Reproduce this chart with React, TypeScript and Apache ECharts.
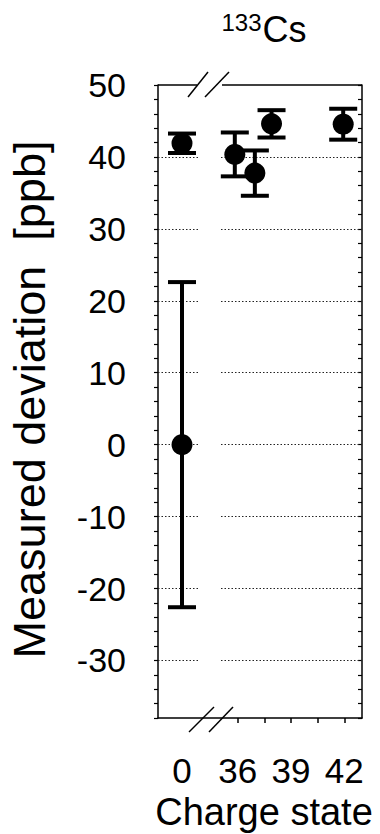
import React, { useEffect, useRef } from "react";
import * as echarts from "echarts";

// ---- data ----
const leftCharges = [0, 0];
const leftValues = [41.9, 0];
const leftErrors = [1.35, 22.6];

const rightCharges = [35.83, 36.96, 37.9, 41.94];
const rightValues = [40.35, 37.75, 44.6, 44.55];
const rightErrors = [3.05, 3.15, 1.9, 2.15];

const yLabelValues = [50, 40, 30, 20, 10, 0, -10, -20, -30];
const gridValues = [40, 30, 20, 10, 0, -10, -20, -30];
const rightTickValues = [36, 37.5, 39, 40.5, 42];
const rightLabelValues = [36, 39, 42];
const leftTickValues = [0, 1.1];
const leftLabelValues = [0];

const FONT = "Liberation Sans, Arial, Helvetica, sans-serif";

const G_LEFT = 158;
const G_RIGHT = 362;
const G_TOP = 85;
const G_BOTTOM = 718;

function errorBarRenderer(params: any, api: any) {
  const x = api.value(0);
  const y = api.value(1);
  const e = api.value(2);
  const top = api.coord([x, y + e]);
  const bot = api.coord([x, y - e]);
  const hw = 14;
  const style = { stroke: "#000", lineWidth: 4 };
  return {
    type: "group",
    children: [
      { type: "line", shape: { x1: top[0], y1: top[1], x2: bot[0], y2: bot[1] }, style },
      { type: "line", shape: { x1: top[0] - hw, y1: top[1], x2: top[0] + hw, y2: top[1] }, style },
      { type: "line", shape: { x1: bot[0] - hw, y1: bot[1], x2: bot[0] + hw, y2: bot[1] }, style },
    ],
  };
}

export default function App() {
  const ref = useRef<HTMLDivElement>(null);
  useEffect(() => {
    document.body.style.margin = "0";
    const chart = echarts.init(ref.current!, null, { renderer: "svg" });
    const leftData = leftCharges.map((c, i) => [c, leftValues[i], leftErrors[i]]);
    const rightData = rightCharges.map((c, i) => [c, rightValues[i], rightErrors[i]]);

    const option: any = {
      animation: false,
      backgroundColor: "#fff",
      title: {
        text: "{s|133}{b|Cs}",
        left: 259,
        top: 5,
        textAlign: "center",
        textStyle: {
          fontSize: 36,
          fontWeight: "normal",
          fontFamily: FONT,
          color: "#000",
          rich: {
            s: { fontSize: 24, fontWeight: "normal", fontFamily: FONT, color: "#000", padding: [0, 1, 14, 0] },
            b: { fontSize: 36, fontWeight: "normal", fontFamily: FONT, color: "#000" },
          },
        },
      },
      grid: {
        left: G_LEFT,
        top: G_TOP,
        width: G_RIGHT - G_LEFT,
        height: G_BOTTOM - G_TOP,
        containLabel: false,
        outerBoundsMode: "none",
      },
      xAxis: [
        {
          type: "value",
          position: "bottom",
          min: -1.353,
          max: 10.147,
          axisLine: { show: false },
          splitLine: { show: false },
          axisTick: {
            show: true,
            inside: false,
            length: 5,
            customValues: leftTickValues,
            lineStyle: { color: "#000", width: 1.5 },
          },
          axisLabel: {
            show: true,
            customValues: leftLabelValues,
            margin: 35,
            fontSize: 35,
            fontFamily: FONT,
            color: "#000",
          },
        },
        {
          type: "value",
          position: "bottom",
          min: 31.5,
          max: 43,
          axisLine: { show: true, onZero: false, lineStyle: { color: "#000", width: 1.5 } },
          splitLine: { show: false },
          axisTick: {
            show: true,
            inside: false,
            length: 5,
            customValues: rightTickValues,
            lineStyle: { color: "#000", width: 1.5 },
          },
          axisLabel: {
            show: true,
            customValues: rightLabelValues,
            margin: 35,
            fontSize: 35,
            fontFamily: FONT,
            color: "#000",
          },
          name: "Charge state",
          nameLocation: "middle",
          nameGap: 70,
          nameTextStyle: { fontSize: 38, fontFamily: FONT, color: "#000", padding: [0, 0, 0, 8] },
        },
      ],
      yAxis: [
        {
          type: "value",
          position: "left",
          min: -38,
          max: 50,
          interval: 2,
          axisLine: { show: true, onZero: false, lineStyle: { color: "#000", width: 1.5 } },
          axisTick: { show: true, inside: false, length: 4, lineStyle: { color: "#000", width: 1.2 } },
          splitLine: { show: false },
          axisLabel: {
            margin: 32,
            fontSize: 34,
            fontFamily: FONT,
            color: "#000",
            formatter: (v: number) => (yLabelValues.indexOf(v) >= 0 ? String(v) : ""),
          },
          name: "Measured deviation  [ppb]",
          nameLocation: "middle",
          nameGap: 106,
          nameRotate: 90,
          nameTextStyle: { fontSize: 45, fontFamily: FONT, color: "#000", padding: [0, 0, 0, 4] },
        },
        {
          type: "value",
          position: "right",
          min: -38,
          max: 50,
          interval: 2,
          axisLine: { show: true, onZero: false, lineStyle: { color: "#000", width: 1.5 } },
          axisTick: { show: true, inside: true, length: 4, lineStyle: { color: "#000", width: 1.2 } },
          splitLine: { show: false },
          axisLabel: { show: false },
        },
      ],
      graphic: [
        // gap in the dotted grid lines at the axis break
        { type: "rect", z: 10, shape: { x: 200, y: G_TOP + 2, width: 19, height: G_BOTTOM - G_TOP - 4 }, style: { fill: "#fff" } },
        // top frame with a break
        { type: "line", z: 11, shape: { x1: G_LEFT, y1: G_TOP, x2: 197, y2: G_TOP }, style: { stroke: "#000", lineWidth: 1.5 } },
        { type: "line", z: 11, shape: { x1: 222, y1: G_TOP, x2: G_RIGHT, y2: G_TOP }, style: { stroke: "#000", lineWidth: 1.5 } },
        // break marks, top
        { type: "line", z: 11, shape: { x1: 188, y1: 97, x2: 208, y2: 72 }, style: { stroke: "#000", lineWidth: 1.5 } },
        { type: "line", z: 11, shape: { x1: 205, y1: 97, x2: 229, y2: 72 }, style: { stroke: "#000", lineWidth: 1.5 } },
        // break marks, bottom
        { type: "line", z: 11, shape: { x1: 189, y1: 732, x2: 214, y2: 707 }, style: { stroke: "#000", lineWidth: 1.5 } },
        { type: "line", z: 11, shape: { x1: 209, y1: 732, x2: 233, y2: 707 }, style: { stroke: "#000", lineWidth: 1.5 } },
      ],
      series: [
        {
          type: "scatter",
          xAxisIndex: 1,
          yAxisIndex: 0,
          data: [],
          silent: true,
          markLine: {
            silent: true,
            symbol: ["none", "none"],
            label: { show: false },
            lineStyle: { color: "#222", width: 1, type: [1.5, 2] },
            data: gridValues.map((v) => ({ yAxis: v })),
          },
        },
        {
          type: "custom",
          xAxisIndex: 0,
          yAxisIndex: 0,
          renderItem: errorBarRenderer,
          encode: { x: 0, y: 1 },
          data: leftData,
          z: 20,
        },
        {
          type: "custom",
          xAxisIndex: 1,
          yAxisIndex: 0,
          renderItem: errorBarRenderer,
          encode: { x: 0, y: 1 },
          data: rightData,
          z: 20,
        },
        {
          type: "scatter",
          xAxisIndex: 0,
          yAxisIndex: 0,
          symbol: "circle",
          symbolSize: 21,
          itemStyle: { color: "#000", opacity: 1 },
          data: leftData.map((d) => [d[0], d[1]]),
          z: 21,
        },
        {
          type: "scatter",
          xAxisIndex: 1,
          yAxisIndex: 0,
          symbol: "circle",
          symbolSize: 21,
          itemStyle: { color: "#000", opacity: 1 },
          data: rightData.map((d) => [d[0], d[1]]),
          z: 21,
        },
      ],
    };
    chart.setOption(option);
    return () => chart.dispose();
  }, []);
  return <div ref={ref} style={{ width: 380, height: 834 }} />;
}
